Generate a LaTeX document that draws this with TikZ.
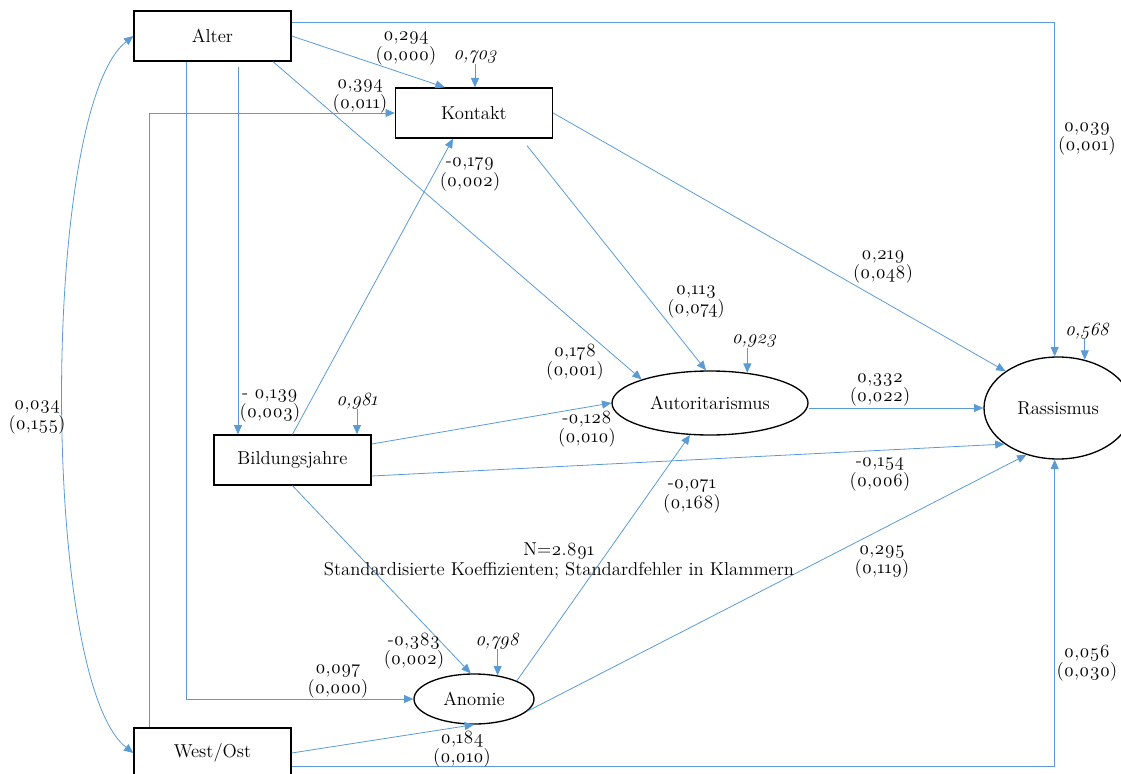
\documentclass[tikz,border=0pt]{standalone}
\usepackage{fontspec}
\setmainfont{Latin Modern Roman}[Numbers=OldStyle]
\usetikzlibrary{arrows.meta,shapes.geometric,calc}
\definecolor{lineblue}{HTML}{5B9BD5}
\begin{document}
\begin{tikzpicture}[x=0.75pt,y=-0.75pt,
  font=\fontsize{14}{14.8}\selectfont,
  box/.style={draw=black,line width=1pt,minimum width=117.75pt,minimum height=37.5pt,inner sep=0pt},
  ell/.style={ellipse,draw=black,line width=1pt,inner sep=0pt},
  arr/.style={draw=lineblue,line width=0.6pt,-{Triangle[length=7pt,width=6pt]}},
  darr/.style={draw=lineblue,line width=0.6pt,{Triangle[length=7pt,width=6pt]}-{Triangle[length=7pt,width=6pt]}},
  lbl/.style={align=center,inner sep=0pt},
  err/.style={font=\fontsize{14}{14.8}\selectfont\itshape,inner sep=0pt}]
\useasboundingbox (0,0) rectangle (1121,774);

% main nodes
\node[box] (alter) at (212.5,36) {Alter};
\node[box] (kontakt) at (474,113) {Kontakt};
\node[box] (bild) at (292.5,460) {Bildungsjahre};
\node[box] (west) at (212.5,753) {West/Ost};
\node[ell,minimum width=147pt,minimum height=48pt] (autor) at (710,403) {Autoritarismus};
\node[ell,minimum width=111pt,minimum height=76.5pt] (rass) at (1058,408) {Rassismus};
\node[ell,minimum width=90pt,minimum height=37.5pt] (anomie) at (474,699) {Anomie};

% error terms
\node[err] (ek) at (475,57) {0,703};
\node[err] (eb) at (357,401) {0,981};
\node[err] (ea) at (754,341) {0,923};
\node[err] (er) at (1087,331) {0,568};
\node[err] (ean) at (497,641) {0,798};
\draw[arr] (ek.south) -- (ek.south |- kontakt.north);
\draw[arr] (eb.south) -- (eb.south |- bild.north);
\draw[arr] (ea.south -| autor.39) -- (autor.39);
\draw[arr] (er.south -| rass.61) -- (rass.61);
\draw[arr] (ean.south -| anomie.45) -- (anomie.45);

% paths
\draw[arr] ([yshift=10.3pt]alter.east) -| ([xshift=-2.5pt]rass.north);
\draw[arr] (alter.east) -- ([xshift=-22pt]kontakt.north);
\draw[arr] ([xshift=-47.25pt]west.north) |- (kontakt.west);
\coordinate (a5) at (238,67);
\draw[arr] (a5) -- (a5 |- bild.north);
\draw[arr] ([xshift=-19.5pt]alter.south) |- (anomie.west);
\draw[arr] ([xshift=-14pt]alter.south east) -- (autor.161);
\draw[arr] (bild.north) -- ([xshift=-15.75pt]kontakt.south);
\draw[arr] ([xshift=39.75pt,yshift=-5.25pt]kontakt.south) -- ([xshift=-3pt]autor.north);
\draw[arr] (kontakt.east) -- (rass.145);
\draw[arr] ([yshift=12pt]bild.east) -- (autor.west);
\draw[arr] ([yshift=-12pt]bild.east) -- (rass.214);
\draw[arr] ([yshift=-3.75pt]autor.east) -- (rass.west);
\draw[arr] (bild.south) -- ([xshift=-2.5pt]anomie.north);
\draw[arr] (anomie.23) -- (autor.238);
\draw[arr] (anomie.-13) -- (rass.236);
\draw[arr] (west.east) -- (anomie.south);
\draw[arr] ([yshift=-10pt]west.east) -| ([xshift=-2.5pt]rass.south);
\draw[darr] (alter.west) .. controls (40,110) and (40,680) .. (west.west);

% coefficient labels
\node[lbl] (l1) at (406,48) {0,294\\(0,000)};
\node[lbl] (l2) at (360,96) {0,394\\(0,011)};
\node[lbl] (l3) at (470,174) {-0,179\\(0,002)};
\node[lbl] (l4) at (1087,139) {0,039\\(0,001)};
\node[lbl] (l5) at (270,406) {- 0,139\\(0,003)};
\node[lbl] (l6) at (37,417) {0,034\\(0,155)};
\node[lbl] (l7) at (575,362) {0,178\\(0,001)};
\node[lbl] (l8) at (587,429) {-0,128\\(0,010)};
\node[lbl] (l9) at (696,302) {0,113\\(0,074)};
\node[lbl] (l10) at (883,267) {0,219\\(0,048)};
\node[lbl] (l11) at (880,390) {0,332\\(0,022)};
\node[lbl] (l12) at (880,474) {-0,154\\(0,006)};
\node[lbl] (l13) at (692,496) {-0,071\\(0,168)};
\node[lbl] (l14) at (882,562) {0,295\\(0,119)};
\node[lbl] (l15) at (1087,663) {0,056\\(0,030)};
\node[lbl] (l16) at (414,651) {-0,383\\(0,002)};
\node[lbl] (l17) at (338,681) {0,097\\(0,000)};
\node[lbl] (l18) at (462,749) {0,184\\(0,010)};
\node[lbl] (note) at (559,561) {N=2.891\\Standardisierte Koeffizienten; Standardfehler in Klammern};
\end{tikzpicture}
\end{document}
